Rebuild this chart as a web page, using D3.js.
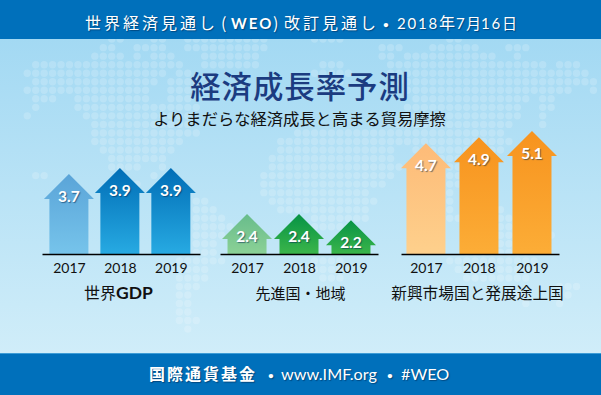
<!DOCTYPE html>
<html>
<head>
<meta charset="utf-8">
<script src="https://cdnjs.cloudflare.com/ajax/libs/d3/7.8.5/d3.min.js"></script>
<style>
    html, body { margin: 0; padding: 0; background: #fff; overflow: hidden; }
    svg { display: block; }
    text { font-family: "Noto Sans CJK JP", sans-serif; }
    .latin { font-family: Lato, sans-serif; }
    .shadow { text-shadow: 1px 1px 1px rgba(0, 40, 80, 0.55); }
    .axis path, .axis line { stroke: #000; stroke-width: 1.4px; }
    .axis text { font-family: Lato, sans-serif; font-size: 14px; fill: #111; }
</style>
</head>
<body>
<div id="chart"></div>
<script>
// values
const years = ["2017", "2018", "2019"];
const worldValues = [3.7, 3.9, 3.9];
const advancedValues = [2.4, 2.4, 2.2];
const emergingValues = [4.7, 4.9, 5.1];

const title = "経済成長率予測";
const subtitle = "よりまだらな経済成長と高まる貿易摩擦";

// background world map: row, then runs of dot columns
const mapRows = [
    [-3, [9, 10], [14, 15], [18, 27], [33, 36], [49, 50]],
    [-2, [8, 9], [12, 15], [18, 27], [41, 43], [47, 52], [56, 58]],
    [-1, [7, 10], [12, 12], [14, 16], [20, 26], [41, 42], [44, 54], [57, 57]],
    [0, [0, 17], [20, 26], [34, 36], [42, 60], [62, 64]],
    [1, [-1, 15], [17, 18], [33, 37], [42, 65]],
    [2, [0, 14], [16, 19], [34, 36], [43, 66]],
    [3, [-1, 4], [5, 13], [16, 18], [44, 63], [66, 66]],
    [4, [0, 2], [5, 13], [16, 18], [45, 58], [60, 61]],
    [5, [0, 0], [5, 19], [44, 57], [60, 61]],
    [6, [-1, -1], [6, 18], [44, 57], [60, 60]],
    [7, [7, 18], [43, 56], [60, 60]],
    [8, [7, 19], [31, 55]],
    [9, [7, 17], [29, 56]],
    [10, [8, 16], [29, 42], [45, 55]],
    [11, [9, 15], [28, 42], [45, 53]],
    [12, [9, 12], [15, 15], [28, 43], [47, 52]],
    [13, [0, 1], [14, 14], [27, 42], [48, 51]],
    [14, [12, 12], [27, 41], [49, 50]],
    [15, [27, 39], [49, 49]],
    [16, [19, 20], [28, 40], [49, 49]],
    [17, [19, 21], [29, 39], [49, 49], [55, 55]],
    [18, [19, 22], [33, 39], [49, 50], [55, 56]],
    [19, [19, 23], [33, 37], [55, 57]],
    [20, [19, 22], [55, 61]],
    [21, [19, 21], [55, 58]],
    [22, [19, 21], [51, 58]],
    [23, [17, 22], [33, 36], [49, 59]],
    [24, [17, 20], [33, 37], [50, 59]],
    [25, [17, 20], [34, 36], [51, 58]],
    [26, [17, 19], [62, 64]],
    [27, [17, 18], [57, 58], [62, 63]],
    [28, [17, 18], [58, 58], [62, 62]],
    [29, [17, 18]],
    [30, [17, 19]],
    [31, [18, 18]]
];

const width = 601;
const height = 395;
const baseline = 254;
const panelWidth = 158;
const headWidth = 50;
const headHeight = 25;
const shaftWidth = 39;

const svg = d3.select("#chart").append("svg")
    .attr("width", width)
    .attr("height", height);

const defs = svg.append("defs");

function addGradient(id, top, bottom) {
    let g = defs.append("linearGradient")
        .attr("id", id)
        .attr("x1", 0).attr("y1", 0)
        .attr("x2", 0).attr("y2", 1);
    g.append("stop").attr("offset", "0%").attr("stop-color", top);
    g.append("stop").attr("offset", "100%").attr("stop-color", bottom);
}

addGradient("bg", "#a3d9f3", "#d0edf9");
addGradient("blue-light", "#5aa4d8", "#76c4eb");
addGradient("blue", "#006db6", "#27aae2");
addGradient("green-light", "#68bc8b", "#8bd196");
addGradient("green", "#069345", "#3bb54a");
addGradient("orange-light", "#fdbb78", "#fed08c");
addGradient("orange", "#f7931e", "#fcad37");

// background
svg.append("rect")
    .attr("y", 39)
    .attr("width", width)
    .attr("height", 314)
    .attr("fill", "url(#bg)");

// dot map
const col = d3.scaleLinear().domain([0, 66]).range([35.7, 593.4]);
const row = d3.scaleLinear().domain([0, 31]).range([64.7, 329.1]);
const dots = [];
mapRows.forEach(r => {
    r.slice(1).forEach(run => {
        d3.range(run[0], run[1] + 1).forEach(k => dots.push({k: k, r: r[0]}));
    });
});
svg.append("g").selectAll("circle")
    .data(dots)
    .join("circle")
    .attr("cx", d => col(d.k))
    .attr("cy", d => row(d.r))
    .attr("r", 3.7)
    .attr("fill", "#fff")
    .attr("opacity", 0.18);

// header and footer bars
svg.append("rect").attr("width", width).attr("height", 39).attr("fill", "#0070bb");
svg.append("rect").attr("y", 353).attr("width", width).attr("height", 42).attr("fill", "#0070bb");
svg.append("rect").attr("y", 353).attr("width", width).attr("height", 1).attr("fill", "#3d9cd6");

function barText(x, y, txt, size, spacing, weight, cls) {
    svg.append("text")
        .attr("class", "shadow " + (cls || ""))
        .attr("x", x)
        .attr("y", y)
        .attr("fill", "#fff")
        .attr("font-size", size)
        .attr("font-weight", weight || 400)
        .attr("letter-spacing", spacing)
        .text(txt);
}

barText(85, 29, "世界経済見通し", 16, 3);
barText(221, 29, "(", 16, 0, 400);
barText(231, 29, "WEO", 15, 2, 700, "latin");
barText(273, 29, ")", 16, 0, 400);
barText(284, 29, "改訂見通し", 16, 3);
barText(383, 28, "•", 10, 0, 700, "latin");
barText(397, 29, "2018", 15, 1.8, 400, "latin");
barText(439, 29, "年", 16, 0);
barText(456, 29, "7", 15, 0, 400, "latin");
barText(466, 29, "月", 15, 0);
barText(481, 29, "16", 15, 1.8, 400, "latin");
barText(502, 29, "日", 15, 0);

barText(149, 380, "国際通貨基金", 16, 2, 700);
barText(268, 379, "•", 10, 0, 700, "latin");
barText(281, 380, "www.IMF.org", 16.2, 0, 400, "latin");
barText(387, 379, "•", 10, 0, 700, "latin");
barText(401, 380, "#WEO", 16.2, 0, 400, "latin");

// titles
svg.append("text")
    .attr("x", 300)
    .attr("y", 98)
    .attr("text-anchor", "middle")
    .attr("fill", "#1b3b80")
    .attr("font-size", 30.4)
    .attr("font-weight", 500)
    .attr("letter-spacing", 1)
    .text(title);

svg.append("text")
    .attr("x", 299.5)
    .attr("y", 124.5)
    .attr("text-anchor", "middle")
    .attr("fill", "#111")
    .attr("font-size", 16.3)
    .text(subtitle);

// arrow height; the picture's arrows sit on a cut-off scale
const y = d3.scaleLinear()
    .domain([1.1, 5.1])
    .range([baseline, baseline - 123]);

function arrowPath(cx, value) {
    let tip = y(value);
    let p = d3.path();
    p.moveTo(cx, tip);
    p.lineTo(cx + headWidth / 2, tip + headHeight);
    p.lineTo(cx + shaftWidth / 2, tip + headHeight);
    p.lineTo(cx + shaftWidth / 2, baseline);
    p.lineTo(cx - shaftWidth / 2, baseline);
    p.lineTo(cx - shaftWidth / 2, tip + headHeight);
    p.lineTo(cx - headWidth / 2, tip + headHeight);
    p.closePath();
    return p.toString();
}

function drawPanel(x0, padding, align, values, fills, name, labelX) {
    let x = d3.scalePoint()
        .domain(years)
        .range([x0, x0 + panelWidth])
        .padding(padding)
        .align(align);

    let rows = years.map((yr, i) => ({year: yr, value: values[i], fill: fills[i]}));
    let g = svg.append("g");

    g.selectAll("path.arrow")
        .data(rows)
        .join("path")
        .attr("class", "arrow")
        .attr("d", d => arrowPath(x(d.year), d.value))
        .attr("fill", d => "url(#" + d.fill + ")");

    g.selectAll("text.value")
        .data(rows)
        .join("text")
        .attr("class", "value latin shadow")
        .attr("x", d => x(d.year))
        .attr("y", d => y(d.value) + 28)
        .attr("text-anchor", "middle")
        .attr("fill", "#fff")
        .attr("font-size", 15.5)
        .attr("font-weight", 700)
        .text(d => d.value.toFixed(1));

    let axis = g.append("g")
        .attr("class", "axis")
        .attr("transform", "translate(0," + baseline + ")")
        .call(d3.axisBottom(x).tickSize(0).tickSizeOuter(0).tickPadding(9));
    axis.selectAll("text").attr("dy", "0.71em");

    let label = g.append("text")
        .attr("x", labelX)
        .attr("y", 299)
        .attr("text-anchor", "middle")
        .attr("fill", "#111")
        .attr("font-size", name.length > 6 ? 15.7 : 15);
    if (name.endsWith("GDP")) {
        label.append("tspan").attr("font-size", 16).text("世界");
        label.append("tspan").attr("class", "latin").attr("font-weight", 700).attr("font-size", 17.5).text("GDP");
    } else {
        label.text(name);
    }
}

drawPanel(42, 0.55, 0.48, worldValues, ["blue-light", "blue", "blue"], "世界GDP", 118.5);
drawPanel(220, 0.52, 0.5, advancedValues, ["green-light", "green", "green"], "先進国・地域", 300.5);
drawPanel(401, 0.49, 0.48, emergingValues, ["orange-light", "orange", "orange"], "新興市場国と発展途上国", 477.5);
</script>
</body>
</html>
